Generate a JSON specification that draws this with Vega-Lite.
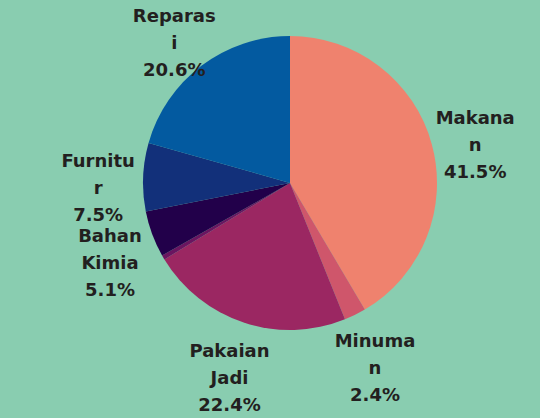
{
  "$schema": "https://vega.github.io/schema/vega-lite/v6.json",
  "autosize": {"type": "none"},
  "width": 500,
  "height": 366,
  "padding": {"left": 40, "top": 0, "right": 0, "bottom": 52},
  "background": "#89CDB0",
  "config": {"view": {"stroke": null}},
  "data": {
    "values": [
      {"sektor": "Makanan", "label": "Makana\nn", "share": 41.5, "no": 1},
      {"sektor": "Minuman", "label": "Minuma\nn", "share": 2.4, "no": 2},
      {"sektor": "Pakaian Jadi", "label": "Pakaian\nJadi", "share": 22.4, "no": 3},
      {"sektor": "Lainnya", "label": "", "share": 0.5, "no": 4},
      {"sektor": "Bahan Kimia", "label": "Bahan\nKimia", "share": 5.1, "no": 5},
      {"sektor": "Furnitur", "label": "Furnitu\nr", "share": 7.5, "no": 6},
      {"sektor": "Reparasi", "label": "Reparas\ni", "share": 20.6, "no": 7}
    ]
  },
  "encoding": {
    "theta": {"field": "share", "type": "quantitative", "stack": true},
    "order": {"field": "no", "type": "quantitative"}
  },
  "layer": [
    {
      "mark": {"type": "arc", "outerRadius": 147},
      "encoding": {
        "color": {
          "field": "sektor",
          "type": "nominal",
          "legend": null,
          "scale": {
            "domain": ["Makanan", "Minuman", "Pakaian Jadi", "Lainnya", "Bahan Kimia", "Furnitur", "Reparasi"],
            "range": ["#EF826E", "#CF566B", "#9B2762", "#6A1560", "#22004A", "#12307A", "#035AA0"]
          }
        }
      }
    },
    {
      "transform": [
        {"calculate": "datum.label === '' ? '' : datum.label + '\\n' + format(datum.share, '.1f') + '%'", "as": "txt"}
      ],
      "mark": {
        "type": "text",
        "radius": 192,
        "dy": -13,
        "font": "DejaVu Sans",
        "fontWeight": "bold",
        "fontSize": 18,
        "lineHeight": 27,
        "lineBreak": "\n",
        "color": "#231F20",
        "align": "center",
        "baseline": "middle"
      },
      "encoding": {
        "text": {"field": "txt", "type": "nominal"}
      }
    }
  ]
}
